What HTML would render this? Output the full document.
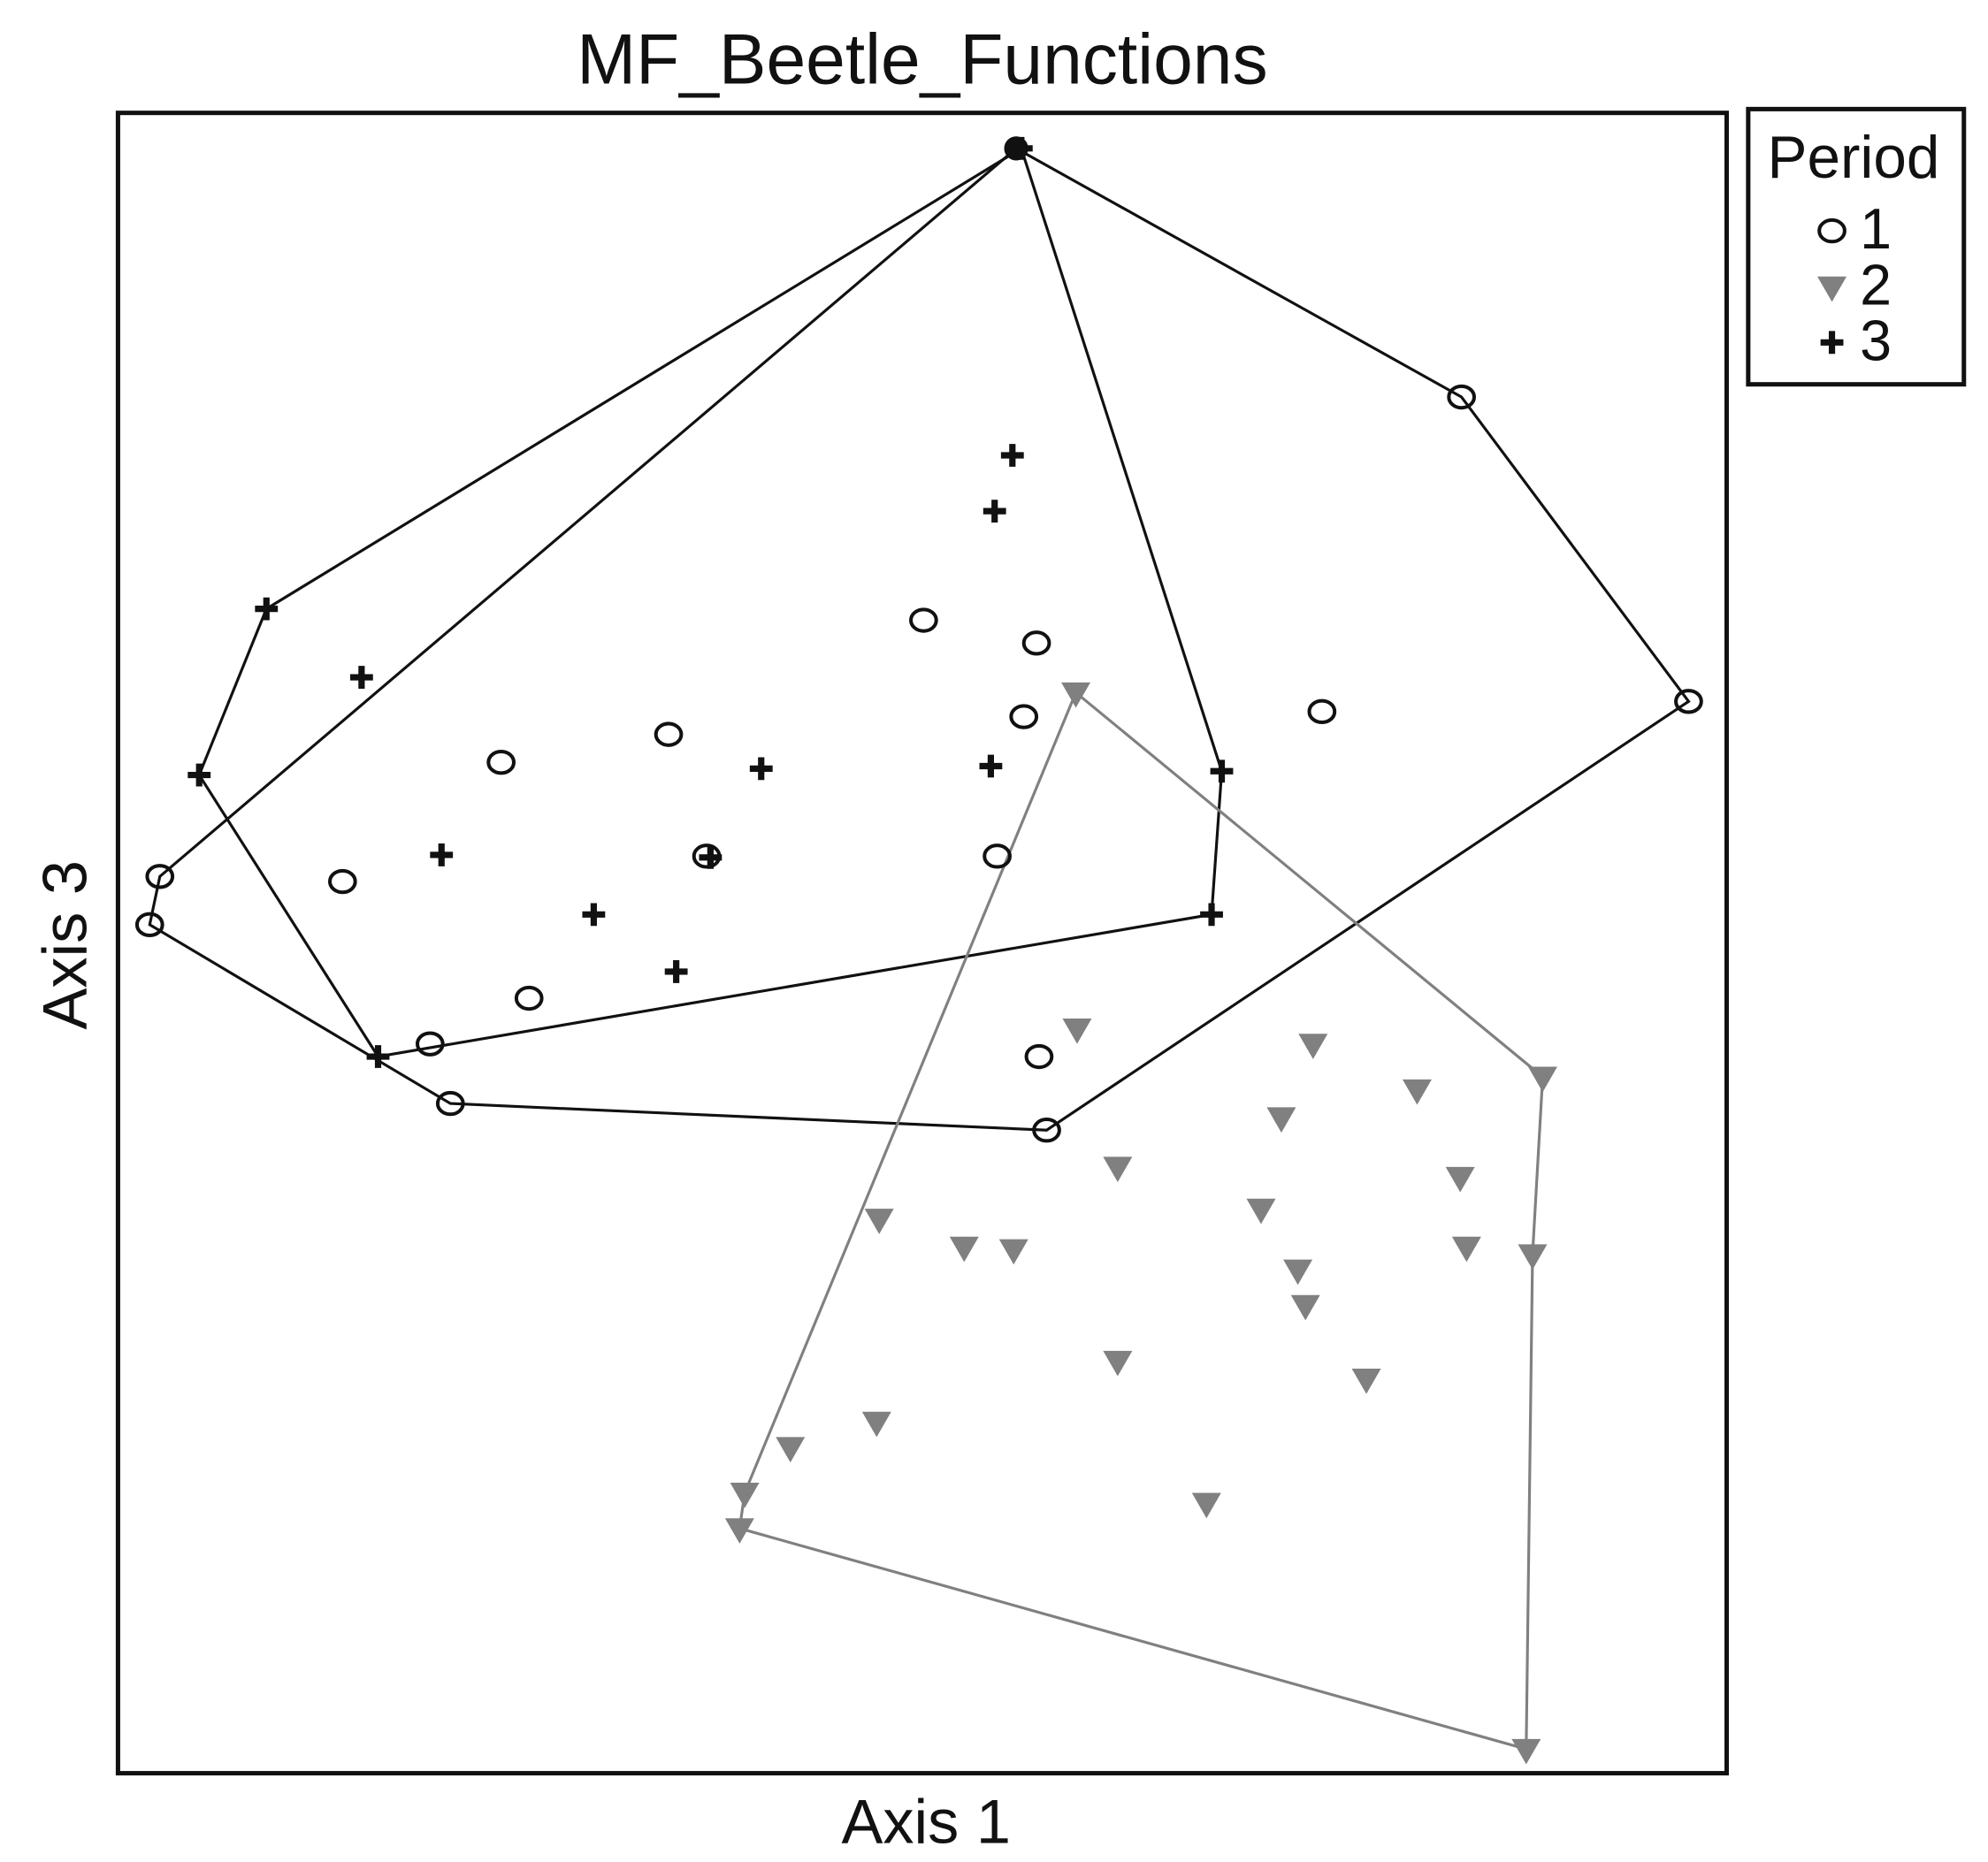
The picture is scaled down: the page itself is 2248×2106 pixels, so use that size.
<!DOCTYPE html>
<html><head><meta charset="utf-8"><style>
html,body{margin:0;padding:0;background:#fff;}
svg{display:block;}
text{font-family:"Liberation Sans",Arial,sans-serif;fill:#111;}
</style></head><body>
<svg width="2248" height="2106" viewBox="0 0 1567 1468" preserveAspectRatio="none" xmlns="http://www.w3.org/2000/svg">
<defs>
<g id="c"><ellipse cx="0" cy="0" rx="10" ry="8.5" fill="none" stroke="#111" stroke-width="2.8"/></g>
<g id="t"><path d="M-11.5,-8 L11.5,-8 L0,12 Z" fill="#808080"/></g>
<g id="p"><path d="M-9,0 H9 M0,-9 V9" stroke="#111" stroke-width="5"/></g>
</defs>
<rect x="93" y="89" width="1268" height="1309" fill="none" stroke="#111" stroke-width="3.5"/>
<rect x="1378" y="86" width="170" height="217" fill="none" stroke="#111" stroke-width="3.5"/>
<text x="727" y="66" font-size="56" text-anchor="middle">MF_Beetle_Functions</text>
<text x="730" y="1453" font-size="49" text-anchor="middle">Axis 1</text>
<text x="0" y="0" font-size="49" text-anchor="middle" transform="translate(68,745) rotate(-90)">Axis 3</text>
<text x="1461" y="140" font-size="47" text-anchor="middle">Period</text>
<use href="#c" x="1444" y="182"/><text x="1466" y="196" font-size="45">1</text>
<use href="#t" x="1444" y="226"/><text x="1466" y="240" font-size="45">2</text>
<use href="#p" x="1444" y="270"/><text x="1466" y="284" font-size="45">3</text>
<polygon points="801,117 1152,313 1331,553 825,891 355,870 118,729 126,691" fill="none" stroke="#111" stroke-width="2.2"/>
<polygon points="805,117 963,608 955,721 298,833 157,611 210,480" fill="none" stroke="#111" stroke-width="2.2"/>
<polygon points="848,546 1216,849 1208,989 1203,1379 583,1205 587,1177" fill="none" stroke="#808080" stroke-width="2.2"/>
<g>
<use href="#t" x="848" y="546"/><use href="#t" x="849" y="811"/><use href="#t" x="1035" y="823"/><use href="#t" x="1117" y="859"/><use href="#t" x="1216" y="849"/><use href="#t" x="1010" y="881"/><use href="#t" x="881" y="920"/><use href="#t" x="1151" y="928"/><use href="#t" x="994" y="953"/><use href="#t" x="693" y="961"/><use href="#t" x="760" y="983"/><use href="#t" x="799" y="985"/><use href="#t" x="1156" y="983"/><use href="#t" x="1208" y="989"/><use href="#t" x="1023" y="1001"/><use href="#t" x="1029" y="1029"/><use href="#t" x="881" y="1073"/><use href="#t" x="1077" y="1087"/><use href="#t" x="691" y="1121"/><use href="#t" x="623" y="1141"/><use href="#t" x="587" y="1177"/><use href="#t" x="583" y="1205"/><use href="#t" x="951" y="1185"/><use href="#t" x="1203" y="1379"/>
</g>
<g>
<circle cx="801" cy="117" r="9.5" fill="#111"/>
<use href="#c" x="1152" y="313"/><use href="#c" x="1331" y="553"/><use href="#c" x="728" y="489"/><use href="#c" x="817" y="507"/><use href="#c" x="807" y="565"/><use href="#c" x="1042" y="561"/><use href="#c" x="527" y="579"/><use href="#c" x="395" y="601"/><use href="#c" x="786" y="675"/><use href="#c" x="557" y="675"/><use href="#c" x="270" y="695"/><use href="#c" x="126" y="691"/><use href="#c" x="118" y="729"/><use href="#c" x="417" y="787"/><use href="#c" x="339" y="823"/><use href="#c" x="819" y="833"/><use href="#c" x="355" y="870"/><use href="#c" x="825" y="891"/>
</g>
<g>
<use href="#p" x="805" y="117"/><use href="#p" x="798" y="359"/><use href="#p" x="784" y="403"/><use href="#p" x="210" y="480"/><use href="#p" x="285" y="534"/><use href="#p" x="600" y="606"/><use href="#p" x="781" y="604"/><use href="#p" x="963" y="608"/><use href="#p" x="157" y="611"/><use href="#p" x="348" y="674"/><use href="#p" x="560" y="676"/><use href="#p" x="468" y="721"/><use href="#p" x="955" y="721"/><use href="#p" x="533" y="766"/><use href="#p" x="298" y="833"/>
</g>
</svg>
</body></html>
